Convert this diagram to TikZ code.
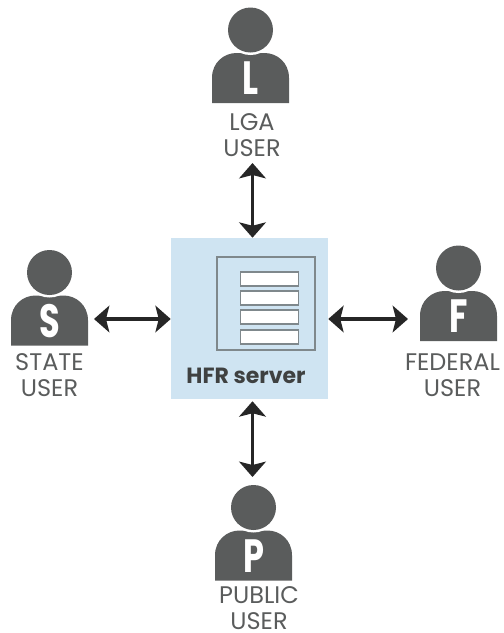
\documentclass[tikz,border=0pt]{standalone}
\usepackage{fontspec}
\setmainfont{Poppins}
\usetikzlibrary{arrows.meta}

\definecolor{usergray}{HTML}{5A5C5C}
\definecolor{serverblue}{HTML}{CFE4F2}
\definecolor{linegray}{HTML}{7F888C}

\tikzset{
    biarrow/.style={{Stealth[length=11.5pt,width=20pt,inset=2.5pt]}-{Stealth[length=11.5pt,width=20pt,inset=2.5pt]}, line width=2.4pt, black!85},
    userlabel/.style={align=center, text=usergray, font=\fontsize{18}{19.5}\selectfont, inner sep=0pt},
    rackbar/.style={draw=linegray, fill=white, line width=.9pt, minimum width=44pt, minimum height=10.5pt, inner sep=0pt},
    pics/person/.style={code={
        \fill[usergray] (-38.5,73) -- (-38.5,48) .. controls (-38.5,32) and (-26,23) .. (-14,23)
            -- (14,23) .. controls (26,23) and (38.5,32) .. (38.5,48) -- (38.5,73) -- cycle;
        \fill[white] (0,0) circle (25);
        \fill[usergray] (0,0) circle (22.5);
        \node[text=white, font=\fontsize{35}{35}\bfseries\selectfont, inner sep=0pt, xscale=.72, transform shape] (letter) at (0,48.5) {#1};
    }}
}

\begin{document}
\begin{tikzpicture}[x=.75pt,y=-.75pt]
    \useasboundingbox (0,0) rectangle (504,633);

    % Сервер
    \node[fill=serverblue, minimum width=117.75pt, minimum height=120.75pt, inner sep=0pt] (server) at (249.5,318.5) {};
    \draw[linegray, line width=1pt] (217,257) rectangle (315,350);
    \node[rackbar] (bar1) at (269.5,279) {};
    \node[rackbar] (bar2) at (269.5,298) {};
    \node[rackbar] (bar3) at (269.5,317) {};
    \node[rackbar] (bar4) at (269.5,337) {};
    \node[text=usergray!70!black, font=\fontsize{16.5}{16.5}\bfseries\selectfont, inner sep=0pt] (serverlabel) at (246,376) {HFR server};

    % Пользователи
    \pic (lga) at (250.5,30) {person=L};
    \node[userlabel] (lgatext) at (252,135.5) {LGA\\USER};
    \pic (state) at (49.5,272.5) {person=S};
    \node[userlabel] (statetext) at (49.5,375.5) {STATE\\USER};
    \pic (federal) at (458.5,268) {person=F};
    \node[userlabel] (federaltext) at (452.5,375.5) {FEDERAL\\USER};
    \pic (public) at (253.5,507.5) {person=P};
    \node[userlabel] (publictext) at (259,608) {PUBLIC\\USER};

    % Стрелки
    \coordinate (lgaend) at (252.5,163);
    \coordinate (publicend) at (252.5,477);
    \coordinate (stateend) at (94,319);
    \coordinate (federalend) at (408,319);
    \draw[biarrow] (lgaend) -- (lgaend |- server.north);
    \draw[biarrow, shorten >=1.5pt] (publicend) -- (publicend |- server.south);
    \draw[biarrow] (stateend) -- (stateend -| server.west);
    \draw[biarrow] (federalend) -- (federalend -| server.east);
\end{tikzpicture}
\end{document}
